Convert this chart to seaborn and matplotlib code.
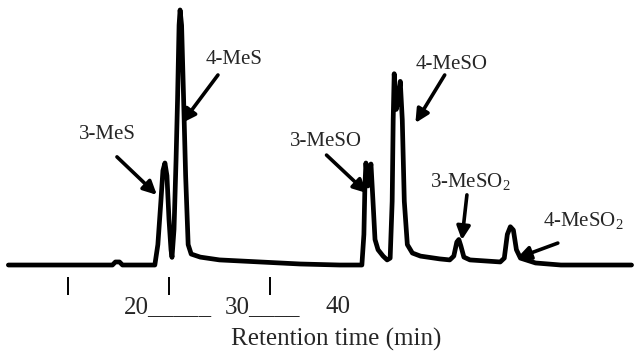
# Chromatogram of methylthio / methylsulfinyl / methylsulfonyl isomers
import numpy as np
import pandas as pd
import matplotlib.pyplot as plt
import matplotlib.transforms as mtransforms
import seaborn as sns

sns.set_style("white")
plt.rcParams['font.family'] = ['Liberation Serif', 'DejaVu Serif']
plt.rcParams['mathtext.fontset'] = 'custom'
plt.rcParams['mathtext.rm'] = 'Liberation Serif'
plt.rcParams['mathtext.default'] = 'regular'

# Trace: retention time (min) and detector response
time_min = [14.1, 24.4, 24.7, 25.1, 25.4, 28.6, 28.9, 29.2, 29.4, 29.6,
            29.8, 30.0, 30.2, 30.3, 30.5, 30.7, 30.85, 31.0, 31.1, 31.25,
            31.45, 31.65, 31.9, 32.2, 33.1, 35.0, 39.0, 43.0, 46.9, 49.1,
            49.3, 49.4, 49.5, 49.7, 49.8, 50.0, 50.2, 50.4, 50.7, 51.2,
            51.6, 51.9, 52.1, 52.2, 52.3, 52.5, 52.7, 52.9, 53.1, 53.3,
            53.6, 54.1, 54.9, 56.8, 57.8, 58.2, 58.5, 58.7, 58.9, 59.2,
            59.8, 62.8, 63.2, 63.5, 63.8, 64.1, 64.4, 64.8, 66.3, 68.8,
            75.8]
response = [0, 0, 1.2, 1.2, 0, 0, 8, 25, 37, 40,
            35, 18, 6, 3, 14, 41, 65, 94, 100, 94,
            65, 35, 8, 4.3, 3.1, 2, 1.2, 0.4, 0, 0,
            12, 31, 40, 31, 35, 39.6, 25, 10, 6, 3.5,
            2, 2.7, 25, 57, 75, 61, 65, 72, 57, 25,
            8, 4.7, 3.5, 2.4, 2, 3.5, 9, 10, 7.5, 3.1,
            2, 1.2, 2.7, 12, 15, 13.7, 6, 2.7, 0.8, 0,
            0]

# Peak labels: text position, arrow tail, arrow tip (data units)
peak_names = ["3-MeS", "4-MeS", "3-MeSO", "4-MeSO", "3-MeSO$_2$", "4-MeSO$_2$"]
label_xy = [(23.9, 51.0), (36.4, 80.4), (45.5, 48.6), (58.0, 78.8), (59.8, 32.9), (71.0, 17.3)]
tail_xy = [(24.85, 42.4), (34.85, 74.5), (45.6, 43.1), (57.3, 74.5), (59.5, 27.5), (68.5, 8.6)]
tip_xy = [(28.8, 27.5), (31.3, 55.7), (49.6, 28.2), (54.4, 55.7), (59.0, 9.8), (64.45, 2.7)]

tick_pos = [20, 30, 40]
tick_text = ["20_____", "30____", "40"]

df = pd.DataFrame({"time": time_min, "signal": response})

fig = plt.figure(figsize=(6.37, 3.55), dpi=100)
ax = fig.add_axes([0, 0.2197, 1, 0.7803])
sns.lineplot(data=df, x="time", y="signal", ax=ax, color="black",
             linewidth=3.4, sort=False, solid_joinstyle="round")

ax.set_xlim(13.27, 76.34)
ax.set_ylim(-4.7, 103.9)

for name, lxy, txy, pxy in zip(peak_names, label_xy, tail_xy, tip_xy):
    ax.text(lxy[0], lxy[1], name, ha="center", va="center", fontsize=15)
    ax.annotate("", xy=pxy, xytext=txy,
                arrowprops=dict(arrowstyle="-|>,head_length=0.8,head_width=0.4",
                                color="black", lw=2.6, shrinkA=0, shrinkB=0))

sns.despine(ax=ax, left=True, bottom=True)
ax.set_yticks([])
ax.set_xticks(tick_pos)
ax.set_xticklabels(tick_text, fontsize=18, ha="left")
ax.tick_params(axis="x", direction="out", length=13, width=1.4,
               color="black", pad=1, bottom=True)
shift = mtransforms.ScaledTranslation(0.56, 0, fig.dpi_scale_trans)
for lab in ax.get_xticklabels():
    lab.set_transform(lab.get_transform() + shift)

ax.set_xlabel("Retention time (min)", fontsize=18)
ax.set_ylabel("")
ax.xaxis.set_label_coords(336 / 637, -0.185)

fig.savefig("out.png", dpi=100)
